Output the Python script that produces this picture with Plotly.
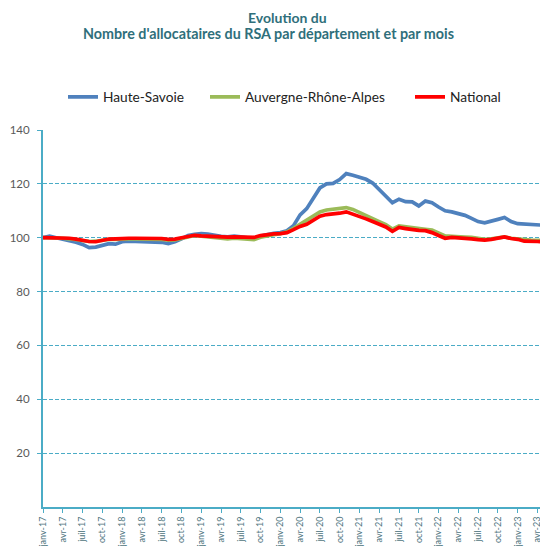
import plotly.graph_objects as go

months = ["janv-17","févr-17","mars-17","avr-17","mai-17","juin-17","juil-17","août-17","sept-17","oct-17","nov-17","déc-17",
          "janv-18","févr-18","mars-18","avr-18","mai-18","juin-18","juil-18","août-18","sept-18","oct-18","nov-18","déc-18",
          "janv-19","févr-19","mars-19","avr-19","mai-19","juin-19","juil-19","août-19","sept-19","oct-19","nov-19","déc-19",
          "janv-20","févr-20","mars-20","avr-20","mai-20","juin-20","juil-20","août-20","sept-20","oct-20","nov-20","déc-20",
          "janv-21","févr-21","mars-21","avr-21","mai-21","juin-21","juil-21","août-21","sept-21","oct-21","nov-21","déc-21",
          "janv-22","févr-22","mars-22","avr-22","mai-22","juin-22","juil-22","août-22","sept-22","oct-22","nov-22","déc-22",
          "janv-23","févr-23","mars-23","avr-23","mai-23","juin-23"]

haute_savoie = [100, 100.6, 100, 99.5, 99, 98.3, 97.5, 96.3, 96.5, 97.3, 97.8, 97.6,
                98.5, 98.7, 98.6, 98.7, 98.5, 98.5, 98.3, 97.8, 98.5, 99.6, 100.8, 101.3,
                101.5, 101.3, 100.8, 100.5, 100.3, 100.6, 100.3, 100.1, 99.6, 100.6, 101.2, 101.6,
                101.9, 102.6, 104.5, 108.5, 110.8, 114.5, 118.5, 120, 120.2, 121.6, 123.8, 123.2,
                122.5, 121.7, 120.3, 118, 115.3, 113, 114.3, 113.4, 113.3, 111.8, 113.6, 113,
                111.4, 110, 109.6, 109.1, 108.3, 107.2, 106, 105.5, 106, 106.8, 107.5, 106,
                105.2, 105, 104.9, 104.6, 104.6, 104.5]

auvergne = [100, 100, 99.9, 99.8, 99.6, 99.3, 98.9, 98.6, 98.7, 99.2, 99.4, 99.4,
            99.6, 99.6, 99.6, 99.6, 99.5, 99.5, 99.4, 99.1, 99.2, 99.7, 100.4, 100.8,
            100.6, 100.3, 100, 99.8, 99.6, 99.8, 99.6, 99.4, 99.3, 100.2, 100.8, 101.1,
            101.5, 102.2, 103.5, 105, 106.8, 108, 109.6, 110.3, 110.6, 110.8, 111.2, 110.5,
            109.3, 108.2, 107.2, 106, 104.9, 103.2, 104.4, 104, 103.6, 103.3, 103.1, 102.8,
            101.9, 100.7, 100.5, 100.5, 100.2, 100.1, 99.7, 99.4, 99.6, 100, 100.3, 99.8,
            99.5, 99.1, 99.1, 99, 99.1, 99.2]

national = [100, 100, 100, 100, 99.8, 99.5, 99, 98.6, 98.5, 99, 99.5, 99.6,
            99.8, 99.8, 99.8, 99.8, 99.9, 99.8, 99.7, 99.4, 99.5, 100, 100.6, 100.9,
            100.7, 100.5, 100.3, 100.3, 100.2, 100.3, 100.2, 100.1, 100.1, 100.8, 101.2, 101.4,
            101.5, 101.9, 103, 104.2, 105, 106.5, 108, 108.6, 108.8, 109.1, 109.6, 108.8,
            107.8, 107, 106, 105, 104, 102.4, 103.8, 103.4, 103, 102.7, 102.6, 101.9,
            100.8, 99.8, 100.1, 100, 99.9, 99.6, 99.3, 99.1, 99.4, 99.8, 100.3, 99.7,
            99.4, 98.7, 98.5, 98.6, 98.5, 98.7]

y_ticks = [20, 40, 60, 80, 100, 120, 140]

title_line1 = "Evolution du"
title_line2 = "Nombre d'allocataires du RSA par département et par mois"

teal = "#4BACC6"
font_family = "Lato, 'Open Sans', sans-serif"

# The page body has an 8px margin: the figure is sized to fit the window after it.
W, H = 540, 538

fig = go.Figure()
series = [("Haute-Savoie", haute_savoie, "#4F81BD", "legend"),
          ("Auvergne-Rhône-Alpes", auvergne, "#9BBB59", "legend2"),
          ("National", national, "#FF0000", "legend3")]
for name, vals, color, lg in series:
    fig.add_trace(go.Scatter(x=months, y=vals, mode="lines", name=name, showlegend=True,
                             line=dict(color=color, width=3.7), legend=lg))

legend_common = dict(orientation="h", yanchor="middle", xanchor="left",
                     xref="container", yref="container",
                     font=dict(family=font_family, size=13.7, color="#222222"),
                     bgcolor="rgba(0,0,0,0)", itemwidth=30, visible=True)

ly = 1 - 89 / H
fig.update_layout(
    width=W, height=H,
    showlegend=True,
    margin=dict(l=34.5, r=0, t=122, b=39),
    paper_bgcolor="white", plot_bgcolor="white",
    font=dict(family=font_family),
    legend=dict(x=55 / W, y=ly, **legend_common),
    legend2=dict(x=197 / W, y=ly, **legend_common),
    legend3=dict(x=402 / W, y=ly, **legend_common),
    xaxis=dict(type="category", range=[0, 76.6], tickmode="linear", tick0=0, dtick=3,
               tickangle=-90, tickfont=dict(size=9, color="#4F7580", family=font_family),
               showline=True, linecolor=teal, linewidth=2, ticks="outside", ticklen=4,
               tickcolor=teal, tickwidth=1, showgrid=False, zeroline=False, automargin=False),
    yaxis=dict(range=[0, 140], tickmode="array", tickvals=y_ticks,
               tickfont=dict(size=11.5, color="#595959", family=font_family),
               ticklabelstandoff=5,
               showline=True, linecolor=teal, linewidth=2, ticks="outside", ticklen=4,
               tickcolor=teal, showgrid=True, gridcolor=teal, griddash="4px,2px", gridwidth=1.2,
               zeroline=False, automargin=False),
    annotations=[
        dict(text="<b>" + title_line1 + "</b>", xref="paper", yref="paper",
             x=(279 - 34.5) / 505.5, y=1 + (122 - 9.3) / 377, xanchor="center", yanchor="middle",
             showarrow=False, font=dict(family=font_family, size=14, color="#2F6F7B")),
        dict(text="<b>" + title_line2 + "</b>", xref="paper", yref="paper",
             x=(260 - 34.5) / 505.5, y=1 + (122 - 25.8) / 377, xanchor="center", yanchor="middle",
             showarrow=False, font=dict(family=font_family, size=14.3, color="#2F6F7B")),
    ],
)

fig.write_html("out.html")
